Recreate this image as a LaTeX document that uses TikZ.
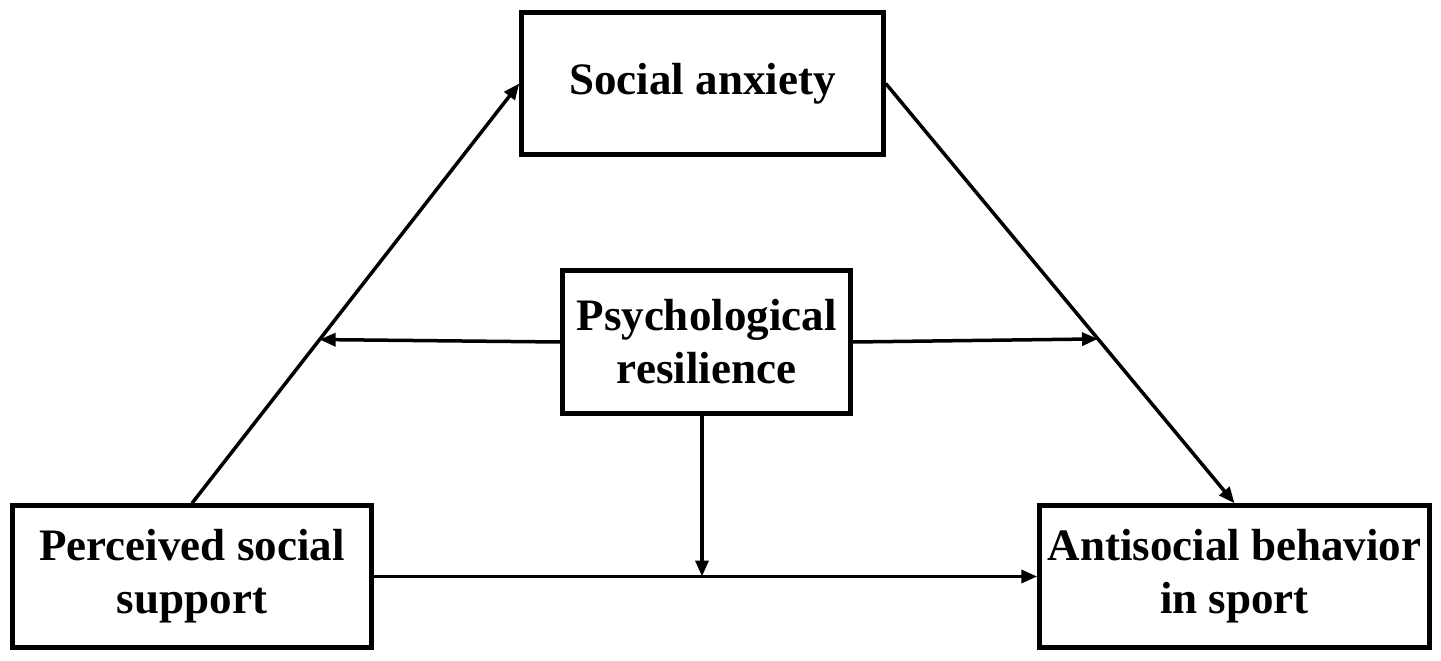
\documentclass[tikz,border=0pt]{standalone}
\usepackage{fontspec}
\setmainfont{Liberation Serif}
\usetikzlibrary{arrows.meta,calc}
\begin{document}
\begin{tikzpicture}[x=1pt,y=-1pt,
  box/.style={draw,line width=4.5pt,rectangle,align=center,inner sep=0pt,
    font=\fontsize{45}{53}\selectfont\bfseries},
  conn/.style={line width=3.5pt,-{Triangle[length=16pt,width=13pt]}}]
\useasboundingbox[fill=white] (0,0) rectangle (1441,661);
\node[box,minimum width=362pt,minimum height=142pt] (SA) at (702.5,83.5) {Social anxiety\strut};
\node[box,minimum width=288pt,minimum height=143pt] (PR) at (706.5,342) {Psychological\\resilience};
\node[box,minimum width=359pt,minimum height=142pt] (PSS) at (192,576.5) {Perceived social\\support};
\node[box,minimum width=390pt,minimum height=142pt] (ASB) at (1234.5,576.5) {Antisocial behavior\\in sport};
\path (PSS.north) -- (SA.west) coordinate[pos=0.39] (m1);
\path (SA.east) -- (ASB.north) coordinate[pos=0.6085] (m2);
\coordinate (p3) at ($(PR.south)+(-4.5,0)$);
\coordinate (m3) at (p3 |- PSS.east);
\draw[conn] (PSS.north) -- (SA.west);
\draw[conn] (SA.east) -- (ASB.north);
\draw[conn] (PSS.east) -- (ASB.west);
\draw[conn] (PR.west) -- (m1);
\draw[conn] (PR.east) -- (m2);
\draw[conn] (p3) -- (m3);
\end{tikzpicture}
\end{document}
